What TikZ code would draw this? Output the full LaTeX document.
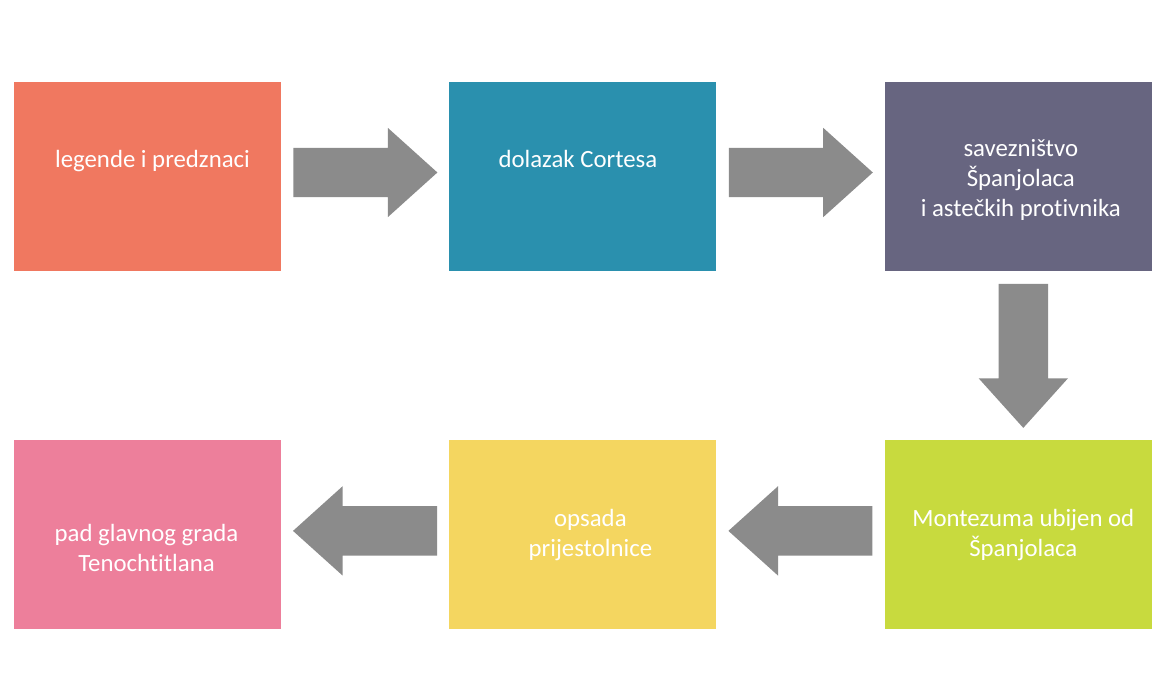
\documentclass[tikz,border=0pt]{standalone}
\usepackage{fontspec}
\setmainfont{Carlito}[Ligatures={NoCommon}]
\usetikzlibrary{positioning,calc,shapes.arrows}
\definecolor{legcol}{RGB}{240,120,96}
\definecolor{cortcol}{RGB}{42,144,174}
\definecolor{savcol}{RGB}{103,101,128}
\definecolor{montcol}{RGB}{200,218,62}
\definecolor{opscol}{RGB}{244,214,96}
\definecolor{padcol}{RGB}{237,127,155}
\definecolor{arrcol}{RGB}{139,139,139}

\begin{document}
\begin{tikzpicture}[
    x=1pt, y=-1pt,
    box/.style={rectangle, minimum width=267pt, minimum height=189pt, inner sep=0pt, draw=none},
    txt/.style={font=\fontsize{24.8}{30}\selectfont, text=white, align=center, inner sep=0pt, anchor=base},
    flow/.style={single arrow, fill=arrcol, draw=none, anchor=tail, minimum height=144pt, inner xsep=0pt, inner ysep=24.5pt, single arrow head extend=20pt, single arrow tip angle=84, single arrow head indent=0pt},
]
\useasboundingbox (0,0) rectangle (1170,700);

% top row
\node[box, fill=legcol] (b1) at (147.5,176.5) {};
\node[box, fill=cortcol, right=168pt of b1] (b2) {};
\node[box, fill=savcol, right=168pt of b2] (b3) {};
% bottom row
\node[box, fill=montcol, below=169pt of b3] (b4) {};
\node[box, fill=opscol, left=168pt of b4] (b5) {};
\node[box, fill=padcol, left=168pt of b5] (b6) {};

% base = last line
\node[txt] (t1) at ([xshift=5pt, yshift=8.5pt]b1.center) {legende i predznaci};
\node[txt] (t2) at ([xshift=-5pt, yshift=8.5pt]b2.center) {dolazak Cortesa};
\node[txt] (t3) at ([xshift=2.5pt, yshift=-40.5pt]b3.center) {savezništvo\\Španjolaca\\i astečkih protivnika};
\node[txt] (t4) at ([xshift=5pt, yshift=-22pt]b4.center) {Montezuma ubijen od\\Španjolaca};
\node[txt] (t5) at ([xshift=7.5pt, yshift=-22pt]b5.center) {opsada\\prijestolnice};
\node[txt] (t6) at ([xshift=-1pt, yshift=-37pt]b6.center) {pad glavnog grada\\Tenochtitlana};

% arrows between the steps
\node[flow] (a12) at ($(b1.east)+(12,-4)$) {};
\node[flow] (a23) at ($(b2.east)+(12,-4)$) {};
\node[flow, rotate=-90] (a34) at ($(b3.south)+(5,12.5)$) {};
\node[flow, rotate=180] (a45) at ($(b4.west)+(-12,-4)$) {};
\node[flow, rotate=180] (a56) at ($(b5.west)+(-12,-4)$) {};
\end{tikzpicture}
\end{document}
